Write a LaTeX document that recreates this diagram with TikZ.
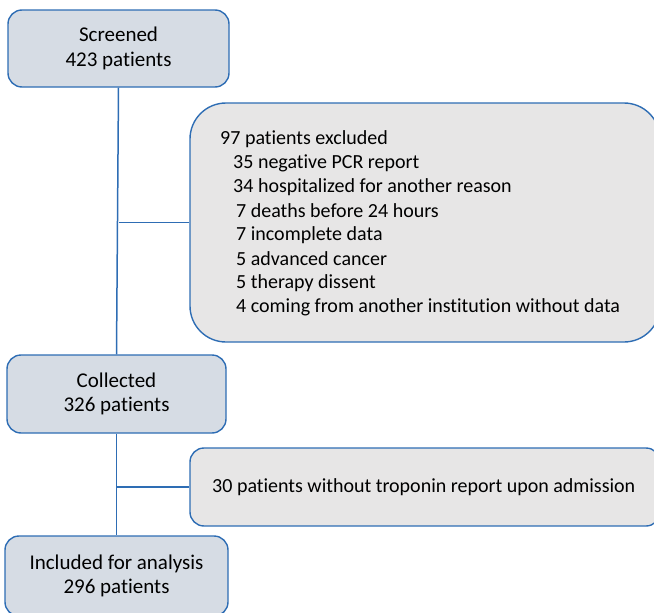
\documentclass[tikz,border=0pt]{standalone}
\usepackage{fontspec}
\setmainfont[Ligatures=NoCommon]{Carlito}
\definecolor{bordblue}{HTML}{2E6DB4}
\definecolor{boxblue}{HTML}{D6DCE4}
\definecolor{boxgray}{HTML}{E7E6E6}
\begin{document}
\begin{tikzpicture}[x=1pt,y=-1pt,
  mainbox/.style={draw=bordblue,line width=1.4pt,fill=boxblue,rounded corners=14pt,align=center,font=\fontsize{21}{24.5}\selectfont,inner sep=0pt},
  sidebox/.style={draw=bordblue,line width=1.4pt,fill=boxgray,inner sep=0pt},
  txt/.style={anchor=west,inner sep=0pt,font=\fontsize{20}{22}\selectfont},
  conn/.style={draw=bordblue,line width=1.5pt}]
\useasboundingbox (0,0) rectangle (654,613);
\node[mainbox,minimum width=221pt,minimum height=77pt] (scr) at (118.5,48.5) {Screened\\423 patients};
\node[sidebox,rounded corners=36pt,minimum width=470pt,minimum height=239pt] (excl) at (425,222.5) {};
\node[mainbox,minimum width=219pt,minimum height=78pt] (col) at (116.5,394) {Collected\\326 patients};
\node[sidebox,rounded corners=14pt,minimum width=470pt,minimum height=78pt] (trop) at (425,487) {};
\node[mainbox,minimum width=223pt,minimum height=80pt] (inc) at (116.5,576) {Included for analysis\\296 patients};
\node[txt] (t0) at (220,139) {97 patients excluded};
\node[txt] (t1) at (233,163) {35 negative PCR report};
\node[txt] (t2) at (233,187) {34 hospitalized for another reason};
\node[txt] (t3) at (236,211) {7 deaths before 24 hours};
\node[txt] (t4) at (236,235) {7 incomplete data};
\node[txt] (t5) at (236,259) {5 advanced cancer};
\node[txt] (t6) at (236,283) {5 therapy dissent};
\node[txt] (t7) at (236,307) {4 coming from another institution without data};
\node[txt] (t8) at (212,487) {30 patients without troponin report upon admission};
\draw[conn] (scr.south) -- (col.north);
\coordinate (j1) at (scr.south |- excl.west);
\draw[conn] (j1) -- (excl.west);
\draw[conn] (col.south) -- (col.south |- inc.north);
\coordinate (j2) at (col.south |- trop.west);
\draw[conn] (j2) -- (trop.west);
\end{tikzpicture}
\end{document}
